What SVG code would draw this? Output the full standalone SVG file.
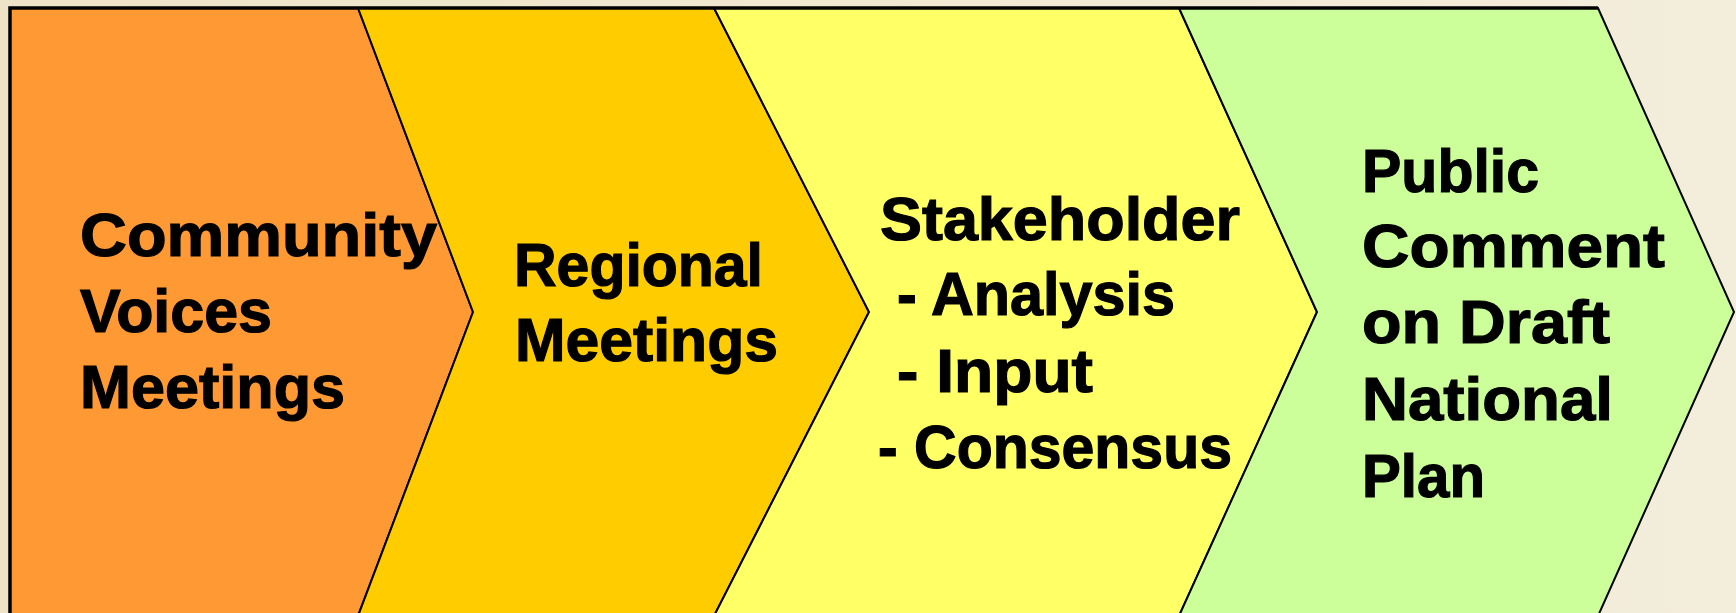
<svg xmlns="http://www.w3.org/2000/svg" width="1736" height="613" viewBox="0 0 1736 613">
<defs>
<linearGradient id="bg" x1="0" y1="0" x2="1" y2="0">
<stop offset="0" stop-color="#EEE3C6"/>
<stop offset="1" stop-color="#F3EDDC"/>
</linearGradient>
</defs>
<style>
.chev{stroke:#000;stroke-width:2;stroke-linejoin:miter}
.t{font-family:"Liberation Sans",Arial,sans-serif;font-weight:bold;font-size:62px;fill:#000;stroke:#000;stroke-width:1.2}
</style>
<rect x="0" y="0" width="1736" height="613" fill="url(#bg)"/>
<g id="node-community">
<polygon class="chev" fill="#FF9933" points="10,8 358,8 473,312 358,616 10,616"/>
<text class="t" x="80" y="256" textLength="357" lengthAdjust="spacingAndGlyphs">Community</text>
<text class="t" x="80" y="332" textLength="192" lengthAdjust="spacingAndGlyphs">Voices</text>
<text class="t" x="80" y="408" textLength="265" lengthAdjust="spacingAndGlyphs">Meetings</text>
</g>
<g id="node-regional">
<polygon class="chev" fill="#FFCC00" points="358,8 714,8 869,312 714,616 358,616 473,312"/>
<text class="t" x="514" y="286" textLength="249" lengthAdjust="spacingAndGlyphs">Regional</text>
<text class="t" x="515" y="361" textLength="263" lengthAdjust="spacingAndGlyphs">Meetings</text>
</g>
<g id="node-stakeholder">
<polygon class="chev" fill="#FFFF66" points="714,8 1179,8 1317,312 1179,616 714,616 869,312"/>
<text class="t" x="880" y="240" textLength="360" lengthAdjust="spacingAndGlyphs">Stakeholder</text>
<text class="t" x="897" y="315" textLength="278" lengthAdjust="spacingAndGlyphs">- Analysis</text>
<text class="t" x="897" y="392" textLength="196" lengthAdjust="spacingAndGlyphs">- Input</text>
<text class="t" x="878" y="468" textLength="354" lengthAdjust="spacingAndGlyphs">- Consensus</text>
</g>
<g id="node-public">
<polygon class="chev" fill="#CCFF99" points="1179,8 1598,8 1734,312 1598,616 1179,616 1317,312"/>
<text class="t" x="1362" y="192" textLength="177" lengthAdjust="spacingAndGlyphs">Public</text>
<text class="t" x="1362" y="267" textLength="303" lengthAdjust="spacingAndGlyphs">Comment</text>
<text class="t" x="1362" y="343" textLength="248" lengthAdjust="spacingAndGlyphs">on Draft</text>
<text class="t" x="1362" y="420" textLength="251" lengthAdjust="spacingAndGlyphs">National</text>
<text class="t" x="1362" y="497" textLength="123" lengthAdjust="spacingAndGlyphs">Plan</text>
</g>
<g id="connectors">
<polyline points="10,616 10,8 1598,8" fill="none" stroke="#000" stroke-width="3.5" stroke-linejoin="miter"/>
</g>
</svg>
